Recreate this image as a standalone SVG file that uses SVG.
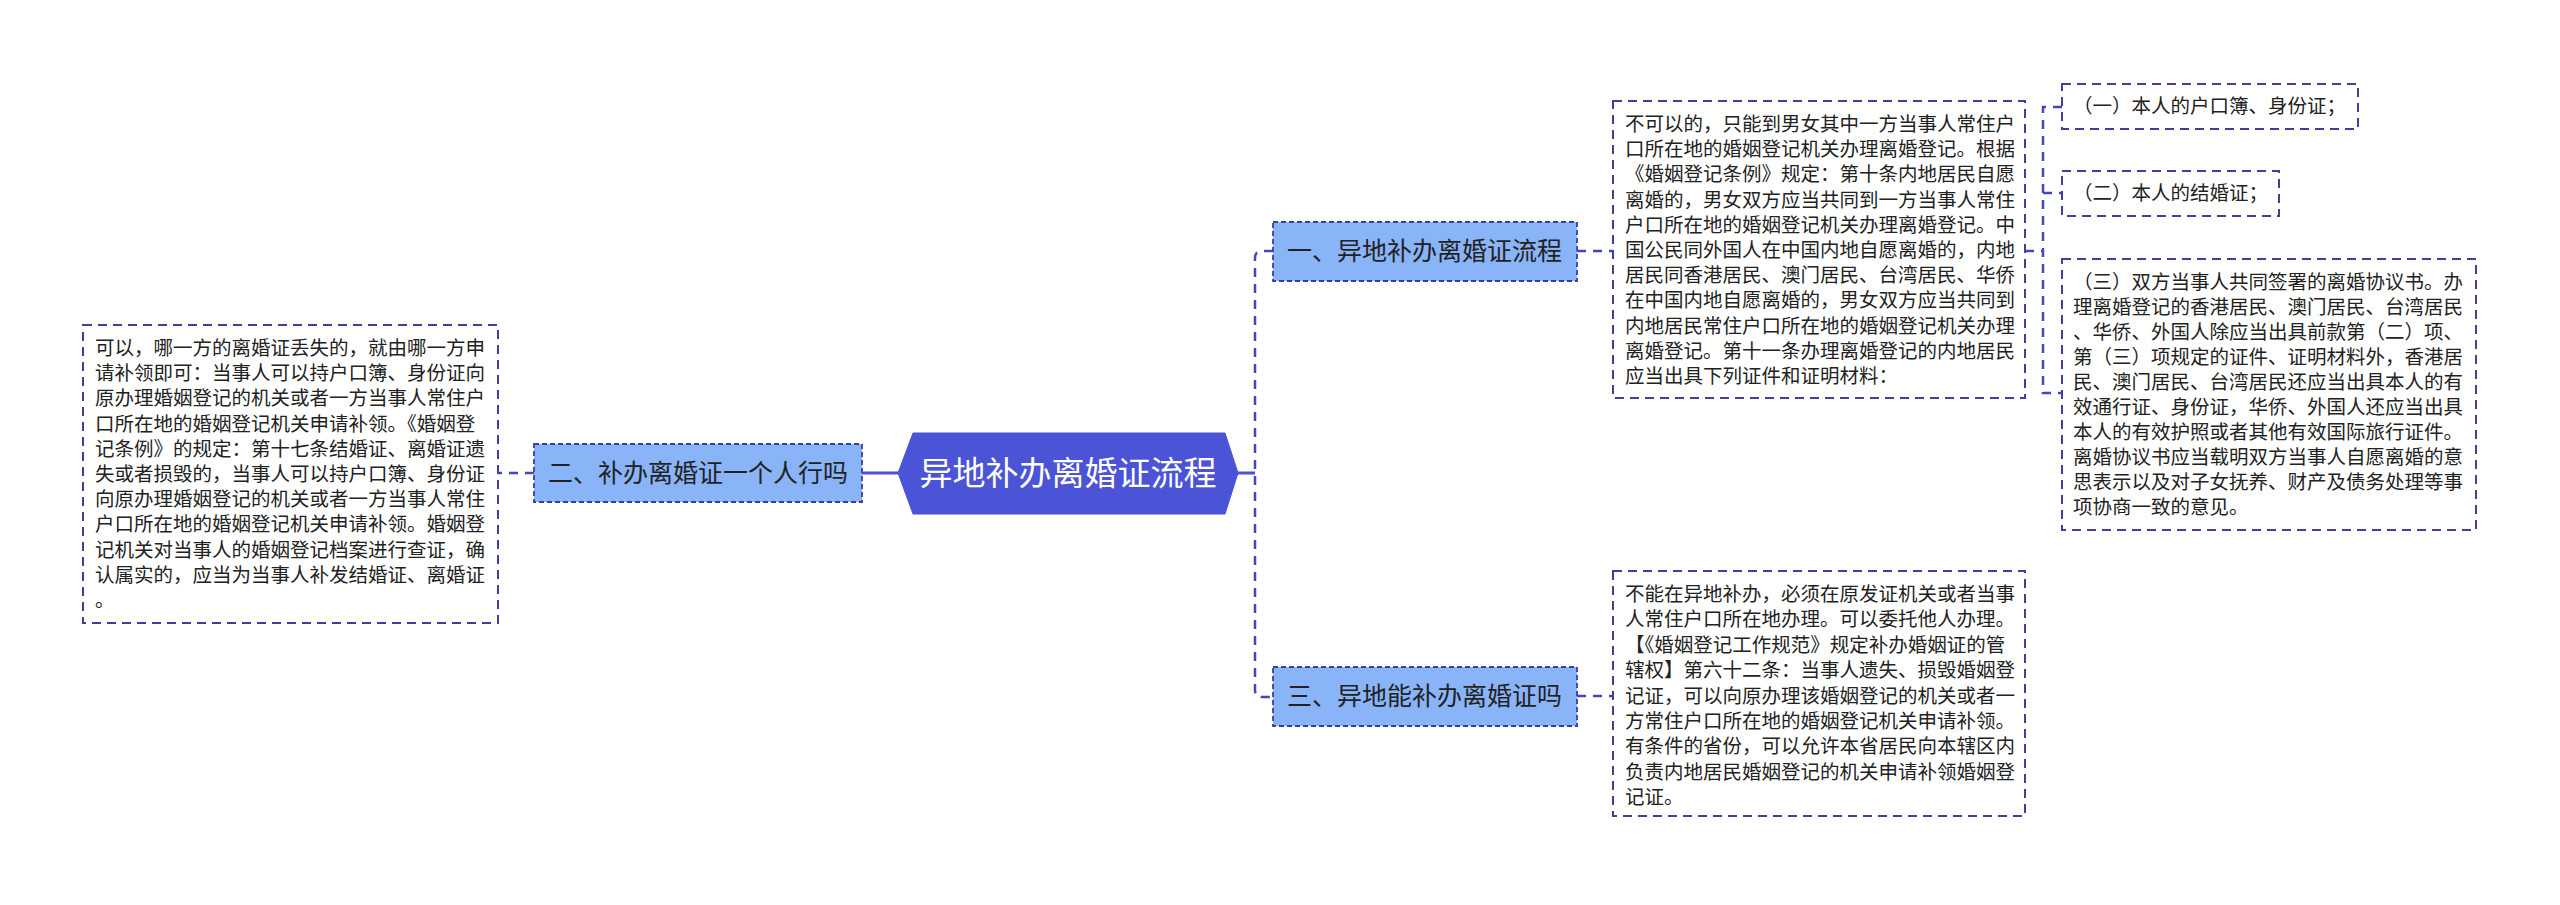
<svg xmlns="http://www.w3.org/2000/svg" width="2560" height="905" viewBox="0 0 2560 905">
<style>
.txt{font-family:"Noto Sans CJK SC","Noto Sans",sans-serif;fill:#222;}
.detail{fill:#fff;stroke:#3f3f9c;stroke-width:2;stroke-dasharray:9 6;}
.item{fill:#fff;stroke:#3f3f9c;stroke-width:2;stroke-dasharray:9 6;}
.branch{fill:#8ab4f8;stroke:#3a3f9e;stroke-width:1.8;stroke-dasharray:5 3;}
.conn{fill:none;stroke:#4347b8;stroke-width:2.5;stroke-dasharray:9 7;}
.solid{fill:none;stroke:#4b52d4;stroke-width:3;}
.dt{font-size:19.5px;}
.bt{font-size:25px;}
</style>
<rect width="2560" height="905" fill="#fff"/>
<g id="connectors">
<path class="solid" d="M898,473 H862"/>
<path class="conn" d="M534,473 H498"/>
<path class="solid" d="M1238,473 H1255"/>
<path class="conn" d="M1273,251 H1262 Q1255,251 1255,258 V690 Q1255,697 1262,697 H1273"/>
<path class="conn" d="M1577,251 H1613"/>
<path class="conn" d="M1577,696 H1613"/>
<path class="conn" d="M2025,251 H2043"/>
<path class="conn" d="M2062,107 H2043 V393 H2062"/>
<path class="conn" d="M2043,193 H2062"/>
</g>
<g id="center">
<polygon points="898,473 913,433 1225,433 1238,473 1225,514 913,514" fill="#4b53d6" stroke="#4b53d6" stroke-width="1"/>
<text class="txt" x="1068" y="485" font-size="33" text-anchor="middle" style="fill:#fff">异地补办离婚证流程</text>
</g>
<g id="branch2">
<rect class="branch" x="534" y="444" width="328" height="58"/>
<text class="txt bt" x="548" y="482">二、补办离婚证一个人行吗</text>
</g>
<g id="detail2">
<rect class="detail" x="83" y="325" width="415" height="298"/>
<text class="txt dt" x="95" y="355"><tspan x="95" dy="0">可以，哪一方的离婚证丢失的，就由哪一方申</tspan><tspan x="95" dy="25.2">请补领即可：当事人可以持户口簿、身份证向</tspan><tspan x="95" dy="25.2">原办理婚姻登记的机关或者一方当事人常住户</tspan><tspan x="95" dy="25.2">口所在地的婚姻登记机关申请补领。《婚姻登</tspan><tspan x="95" dy="25.2">记条例》的规定：第十七条结婚证、离婚证遗</tspan><tspan x="95" dy="25.2">失或者损毁的，当事人可以持户口簿、身份证</tspan><tspan x="95" dy="25.2">向原办理婚姻登记的机关或者一方当事人常住</tspan><tspan x="95" dy="25.2">户口所在地的婚姻登记机关申请补领。婚姻登</tspan><tspan x="95" dy="25.2">记机关对当事人的婚姻登记档案进行查证，确</tspan><tspan x="95" dy="25.2">认属实的，应当为当事人补发结婚证、离婚证</tspan><tspan x="95" dy="25.2">。</tspan></text>
</g>
<g id="branch1">
<rect class="branch" x="1273" y="222" width="304" height="59"/>
<text class="txt bt" x="1287" y="260">一、异地补办离婚证流程</text>
</g>
<g id="detail1">
<rect class="detail" x="1613" y="101" width="412" height="297"/>
<text class="txt dt" x="1625" y="131"><tspan x="1625" dy="0">不可以的，只能到男女其中一方当事人常住户</tspan><tspan x="1625" dy="25.2">口所在地的婚姻登记机关办理离婚登记。根据</tspan><tspan x="1625" dy="25.2">《婚姻登记条例》规定：第十条内地居民自愿</tspan><tspan x="1625" dy="25.2">离婚的，男女双方应当共同到一方当事人常住</tspan><tspan x="1625" dy="25.2">户口所在地的婚姻登记机关办理离婚登记。中</tspan><tspan x="1625" dy="25.2">国公民同外国人在中国内地自愿离婚的，内地</tspan><tspan x="1625" dy="25.2">居民同香港居民、澳门居民、台湾居民、华侨</tspan><tspan x="1625" dy="25.2">在中国内地自愿离婚的，男女双方应当共同到</tspan><tspan x="1625" dy="25.2">内地居民常住户口所在地的婚姻登记机关办理</tspan><tspan x="1625" dy="25.2">离婚登记。第十一条办理离婚登记的内地居民</tspan><tspan x="1625" dy="25.2">应当出具下列证件和证明材料：</tspan></text>
</g>
<g id="item1">
<rect class="item" x="2062" y="84" width="296" height="45"/>
<text class="txt dt" x="2073" y="113">（一）本人的户口簿、身份证；</text>
</g>
<g id="item2">
<rect class="item" x="2062" y="171" width="217" height="45"/>
<text class="txt dt" x="2073" y="200">（二）本人的结婚证；</text>
</g>
<g id="item3">
<rect class="item" x="2062" y="259" width="414" height="271"/>
<text class="txt dt" x="2073" y="289"><tspan x="2073" dy="0">（三）双方当事人共同签署的离婚协议书。办</tspan><tspan x="2073" dy="25">理离婚登记的香港居民、澳门居民、台湾居民</tspan><tspan x="2073" dy="25">、华侨、外国人除应当出具前款第（二）项、</tspan><tspan x="2073" dy="25">第（三）项规定的证件、证明材料外，香港居</tspan><tspan x="2073" dy="25">民、澳门居民、台湾居民还应当出具本人的有</tspan><tspan x="2073" dy="25">效通行证、身份证，华侨、外国人还应当出具</tspan><tspan x="2073" dy="25">本人的有效护照或者其他有效国际旅行证件。</tspan><tspan x="2073" dy="25">离婚协议书应当载明双方当事人自愿离婚的意</tspan><tspan x="2073" dy="25">思表示以及对子女抚养、财产及债务处理等事</tspan><tspan x="2073" dy="25">项协商一致的意见。</tspan></text>
</g>
<g id="branch3">
<rect class="branch" x="1273" y="667" width="304" height="59"/>
<text class="txt bt" x="1287" y="705">三、异地能补办离婚证吗</text>
</g>
<g id="detail3">
<rect class="detail" x="1613" y="571" width="412" height="245"/>
<text class="txt dt" x="1625" y="601"><tspan x="1625" dy="0">不能在异地补办，必须在原发证机关或者当事</tspan><tspan x="1625" dy="25.4">人常住户口所在地办理。可以委托他人办理。</tspan><tspan x="1625" dy="25.4">【《婚姻登记工作规范》规定补办婚姻证的管</tspan><tspan x="1625" dy="25.4">辖权】第六十二条：当事人遗失、损毁婚姻登</tspan><tspan x="1625" dy="25.4">记证，可以向原办理该婚姻登记的机关或者一</tspan><tspan x="1625" dy="25.4">方常住户口所在地的婚姻登记机关申请补领。</tspan><tspan x="1625" dy="25.4">有条件的省份，可以允许本省居民向本辖区内</tspan><tspan x="1625" dy="25.4">负责内地居民婚姻登记的机关申请补领婚姻登</tspan><tspan x="1625" dy="25.4">记证。</tspan></text>
</g>
</svg>
